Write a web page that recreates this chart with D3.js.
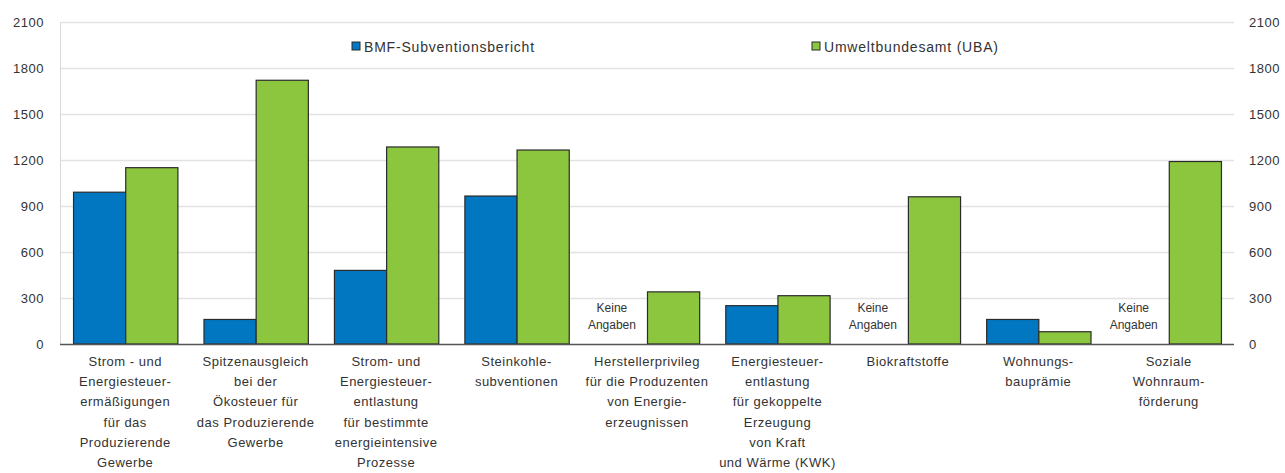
<!DOCTYPE html>
<html>
<head>
<meta charset="utf-8">
<script src="https://cdn.jsdelivr.net/npm/d3@7"></script>
<style>
  body { margin: 0; background: #fff; }
  svg text { font-family: "Liberation Sans", Arial, sans-serif; fill: #333; letter-spacing: 0.5px; }
</style>
</head>
<body>
<svg id="chart" width="1285" height="473"></svg>
<script>
// categories (line breaks as in the original labels)
var categories = [
    ["Strom - und", "Energiesteuer-", "ermäßigungen", "für das", "Produzierende", "Gewerbe"],
    ["Spitzenausgleich", "bei der", "Ökosteuer für", "das Produzierende", "Gewerbe"],
    ["Strom- und", "Energiesteuer-", "entlastung", "für bestimmte", "energieintensive", "Prozesse"],
    ["Steinkohle-", "subventionen"],
    ["Herstellerprivileg", "für die Produzenten", "von Energie-", "erzeugnissen"],
    ["Energiesteuer-", "entlastung", "für gekoppelte", "Erzeugung", "von Kraft", "und Wärme (KWK)"],
    ["Biokraftstoffe"],
    ["Wohnungs-", "bauprämie"],
    ["Soziale", "Wohnraum-", "förderung"]
];
// null = "Keine Angaben"
var bmfValues = [990, 160, 480, 965, null, 250, null, 160, null];
var ubaValues = [1150, 1720, 1285, 1265, 340, 315, 960, 80, 1190];
var yTicks = [0, 300, 600, 900, 1200, 1500, 1800, 2100];
var seriesNames = ["BMF-Subventionsbericht", "Umweltbundesamt (UBA)"];
var seriesColors = ["#0077c0", "#8cc63f"];

var svg = d3.select('#chart');
var plotLeft = 60, plotRight = 1234, plotTop = 22, plotBottom = 344;

var x = d3.scaleBand().domain(d3.range(categories.length))
    .range([plotLeft, plotRight]).paddingInner(0.2).paddingOuter(0.1);
var xs = d3.scaleBand().domain([0, 1]).range([0, x.bandwidth()]);
var y = d3.scaleLinear().domain([0, 2100]).range([plotBottom, plotTop]);

// gridlines
svg.append('g').selectAll('line').data(yTicks.filter(function(d) { return d > 0; }))
    .enter().append('line')
    .attr('x1', plotLeft).attr('x2', plotRight)
    .attr('y1', function(d) { return y(d) + 0.5; })
    .attr('y2', function(d) { return y(d) + 0.5; })
    .style('stroke', '#e2e2e2').style('stroke-width', 1.5);

svg.append('line')
    .attr('x1', plotLeft + 0.5).attr('x2', plotLeft + 0.5)
    .attr('y1', plotTop).attr('y2', plotBottom)
    .style('stroke', '#d8d8d8');

// axis labels (left and right)
var yl = svg.append('g').attr('transform', 'translate(44,0)')
    .call(d3.axisLeft(y).tickValues(yTicks).tickFormat(d3.format('d')).tickSize(0).tickPadding(0));
var yr = svg.append('g').attr('transform', 'translate(1249,0)')
    .call(d3.axisRight(y).tickValues(yTicks).tickFormat(d3.format('d')).tickSize(0).tickPadding(0));
[yl, yr].forEach(function(g) {
    g.select('.domain').remove();
    g.selectAll('text').style('font-size', '13px')
        .style('font-family', '"Liberation Sans", Arial, sans-serif').attr('fill', '#333');
});

// bars
var groups = svg.append('g').selectAll('g').data(categories).enter().append('g')
    .attr('transform', function(d, i) { return 'translate(' + x(i) + ',0)'; });

groups.each(function(d, i) {
    var g = d3.select(this);
    [bmfValues[i], ubaValues[i]].forEach(function(v, s) {
        if (v === null) {
            g.append('text')
                .attr('text-anchor', 'middle')
                .style('font-size', '12px')
                .style('letter-spacing', '0px')
                .selectAll('tspan').data(['Keine', 'Angaben']).enter().append('tspan')
                .attr('x', xs(s) + xs.bandwidth() / 2 - 9)
                .attr('y', function(t, k) { return y(0) - 32 + k * 17; })
                .text(function(t) { return t; });
            return;
        }
        g.append('rect')
            .attr('x', xs(s) + 0.5)
            .attr('y', y(v))
            .attr('width', xs.bandwidth())
            .attr('height', y(0) - y(v))
            .style('fill', seriesColors[s])
            .style('stroke', '#2b2b2b')
            .style('stroke-width', 1.2);
    });
});

// baseline
svg.append('line')
    .attr('x1', plotLeft).attr('x2', plotRight)
    .attr('y1', plotBottom + 0.5).attr('y2', plotBottom + 0.5)
    .style('stroke', '#555').style('stroke-width', 1.5);

// category labels
svg.append('g').selectAll('text').data(categories).enter().append('text')
    .attr('text-anchor', 'middle')
    .style('font-size', '13px')
    .each(function(lines, i) {
        d3.select(this).selectAll('tspan').data(lines).enter().append('tspan')
            .attr('x', x(i) + x.bandwidth() / 2)
            .attr('y', function(t, k) { return 366 + k * 20.2; })
            .text(function(t) { return t; });
    });

// legend
var legendX = [352, 812];
var legend = svg.append('g').selectAll('g').data(seriesNames).enter().append('g')
    .attr('transform', function(d, i) { return 'translate(' + legendX[i] + ',42)'; });
legend.append('rect').attr('width', 8).attr('height', 8)
    .style('fill', function(d, i) { return seriesColors[i]; })
    .style('stroke', '#2b2b2b');
legend.append('text').attr('x', 12).attr('y', 9.5)
    .style('font-size', '14px')
    .style('letter-spacing', '0.8px')
    .text(function(d) { return d; });
</script>
</body>
</html>
